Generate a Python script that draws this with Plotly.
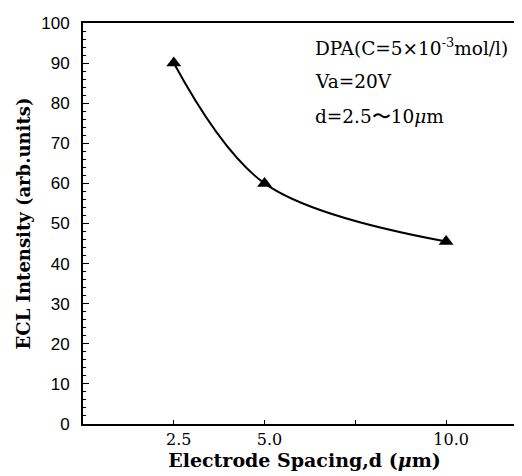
import plotly.graph_objects as go

# Data
spacing_um = [2.5, 5.0, 10.0]
ecl_intensity = [90, 60, 45.5]

x_tick_vals = [2.5, 5.0, 10.0]
x_tick_text = ["2.5", "5.0", "10.0"]
y_tick_vals = [0, 10, 20, 30, 40, 50, 60, 70, 80, 90, 100]

annotation_lines = [
    "DPA(C=5\u00d710<sup>-3</sup>mol/l)",
    "Va=20V",
    "d=2.5\u301c10<i>\u03bc</i>m",
]

SERIF = "DejaVu Serif, Liberation Serif, serif"
NARROW = "Liberation Sans Narrow, Arial Narrow, Liberation Sans, sans-serif"

fig = go.Figure()
fig.add_trace(go.Scatter(
    x=spacing_um, y=ecl_intensity,
    mode="lines+markers",
    line=dict(color="black", width=2, shape="spline", smoothing=1.0),
    marker=dict(symbol="triangle-up", size=13, color="black"),
    showlegend=False,
))

ann_y = [0.94, 0.853, 0.766]
for txt, yy in zip(annotation_lines, ann_y):
    fig.add_annotation(
        text=txt, xref="paper", yref="paper", x=0.52, y=yy,
        xanchor="left", yanchor="middle", showarrow=False,
        font=dict(family=SERIF, size=18.5, color="black"),
    )

fig.update_layout(
    width=522, height=476,
    margin=dict(l=75, r=4, t=15, b=60),
    paper_bgcolor="white", plot_bgcolor="white",
    xaxis=dict(
        range=[0, 12.2],
        tickmode="array", tickvals=x_tick_vals, ticktext=x_tick_text,
        ticks="inside", ticklen=4, tickwidth=1, tickcolor="black",
        minor=dict(tickmode="linear", tick0=0, dtick=2.5, ticks="inside", ticklen=4,
                   tickcolor="black", tickwidth=1, showgrid=False),
        showline=True, linecolor="black", linewidth=2, mirror=True,
        showgrid=False, zeroline=False,
        tickfont=dict(family=SERIF, size=16, color="black"),
        ticklabelshift=5,
        title=dict(text="<b>Electrode Spacing,d (<i>\u03bc</i>m)</b>",
                   font=dict(family=SERIF, size=19, color="black"), standoff=5),
    ),
    yaxis=dict(
        range=[0, 100],
        tickmode="array", tickvals=y_tick_vals,
        ticks="inside", ticklen=6, tickwidth=1, tickcolor="black",
        minor=dict(dtick=2, ticks="inside", ticklen=3, tickcolor="black", tickwidth=1, showgrid=False),
        showline=True, linecolor="black", linewidth=2, mirror=False,
        showgrid=False, zeroline=False,
        tickfont=dict(family=NARROW, size=17, color="black"),
        ticklabelstandoff=8,
        title=dict(text="<b>ECL Intensity (arb.units)</b>",
                   font=dict(family=SERIF, size=18, color="black"), standoff=6),
    ),
)

fig.write_html("out.html")
